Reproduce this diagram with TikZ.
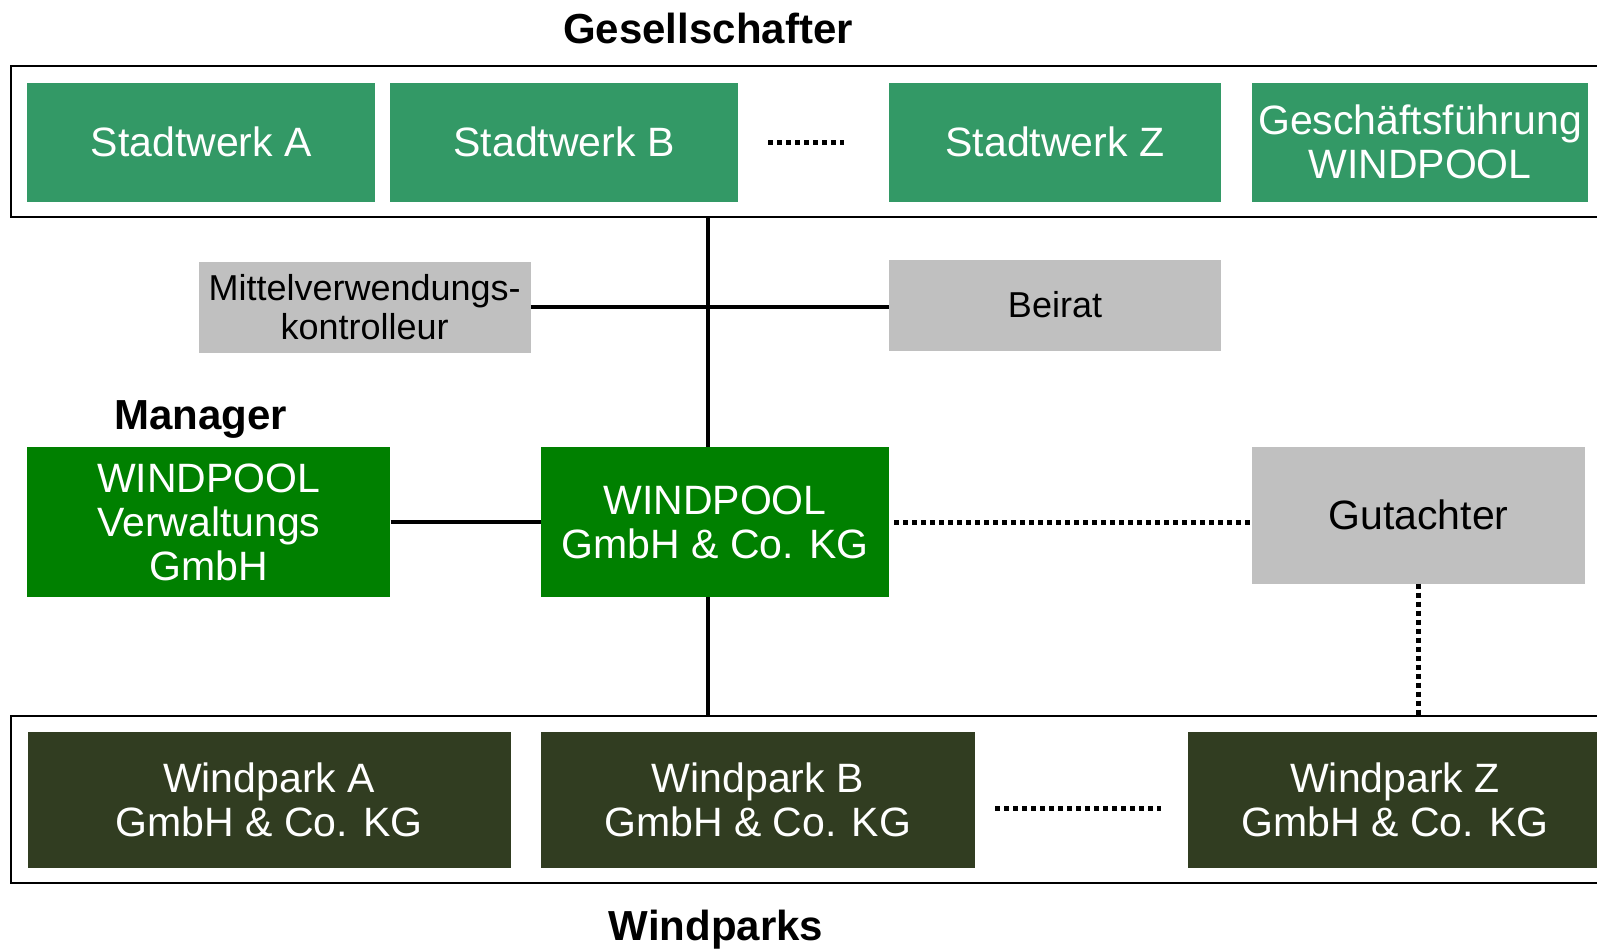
\documentclass[tikz,border=0pt]{standalone}
\usepackage{fontspec}
\setmainfont{Liberation Sans}
\definecolor{swgreen}{RGB}{51,153,102}
\definecolor{mgrgreen}{RGB}{0,128,0}
\definecolor{parkdark}{RGB}{49,61,33}
\definecolor{auxgrey}{RGB}{192,192,192}
\begin{document}
\begin{tikzpicture}[x=1pt,y=1pt]
\tikzstyle{every node}+=[inner sep=0pt]
\tikzstyle{box}=[align=center,font=\fontsize{41}{44}\selectfont]
\tikzstyle{owner}=[box,fill=swgreen,text=white,minimum height=119pt]
\tikzstyle{mgr}=[box,fill=mgrgreen,text=white,minimum height=150pt]
\tikzstyle{park}=[box,fill=parkdark,text=white,minimum height=136pt]
\tikzstyle{aux}=[box,fill=auxgrey,text=black]
\tikzstyle{frame}=[draw=black,line width=2.5pt]
\tikzstyle{title}=[font=\bfseries\fontsize{42}{48}\selectfont]
\tikzstyle{link}=[draw=black,line width=4pt]
\tikzstyle{dots}=[draw=black,line width=5pt,dash pattern=on 5pt off 4pt]
\useasboundingbox (0,0) rectangle (1597,-950);
\node [frame,minimum width=1629pt,minimum height=151pt] (topframe) at (825.5,-141.5) {};
\node [frame,minimum width=1629pt,minimum height=167pt] (botframe) at (825.5,-799.5) {};
\node [title] (gesell) at (708,-28.5) {Gesellschafter};
\node [owner,minimum width=348pt] (swa) at (201.3,-142) {Stadtwerk A};
\node [owner,minimum width=348pt] (swb) at (564,-142) {Stadtwerk B};
\draw [dots] (768,-142) -- (844,-142);
\node [owner,minimum width=332pt] (swz) at (1055,-142) {Stadtwerk Z};
\node [owner,minimum width=336pt] (gf) at (1420,-142) {Geschäftsführung\\WINDPOOL};
\node [aux,minimum width=332pt,minimum height=91pt,font=\fontsize{36}{39}\selectfont] (mvk) at (364.6,-307) {Mittelverwendungs-\\kontrolleur};
\node [aux,minimum width=332pt,minimum height=91pt,font=\fontsize{36}{39}\selectfont] (beirat) at (1055,-305) {Beirat};
\node [title] (manager) at (200.6,-419) {Manager};
\node [mgr,minimum width=363pt] (verw) at (208.8,-522) {WINDPOOL\\Verwaltungs\\GmbH};
\node [mgr,minimum width=348pt] (kg) at (715,-522) {WINDPOOL\\GmbH \& Co. KG};
\node [aux,minimum width=333pt,minimum height=137pt] (gut) at (1418.5,-515) {Gutachter};
\node [park,minimum width=483pt] (wpa) at (269,-800) {Windpark A\\GmbH \& Co. KG};
\node [park,minimum width=434pt] (wpb) at (757.8,-800) {Windpark B\\GmbH \& Co. KG};
\draw [dots] (995,-808) -- (1161,-808);
\node [park,minimum width=415pt] (wpz) at (1395,-800) {Windpark Z\\GmbH \& Co. KG};
\node [title] (windparks) at (716,-930) {Windparks};
\coordinate (trunk) at (708,0);
\draw [link] (trunk |- topframe.south) -- (trunk |- kg.north);
\draw [link] (kg.south -| trunk) -- (trunk |- botframe.north);
\draw [link] (mvk.east) -- (mvk.east -| beirat.west);
\draw [link] (verw.east) -- (kg.west);
\draw [dots] ([xshift=5pt]kg.east) -- (kg.east -| gut.west);
\draw [dots] (gut.south) -- (gut.south |- botframe.north);
\end{tikzpicture}
\end{document}
